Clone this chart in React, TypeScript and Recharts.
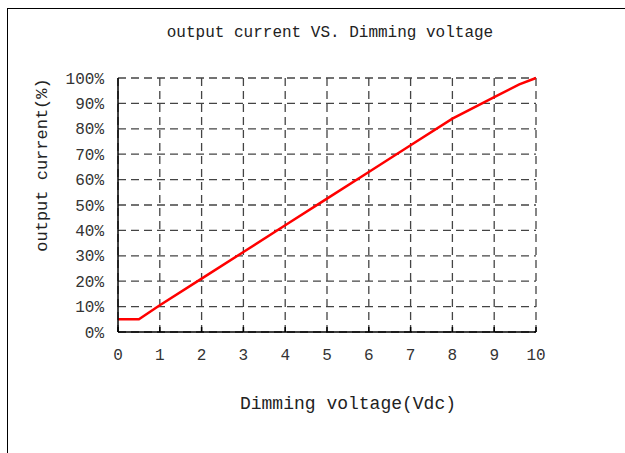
import { LineChart, Line, XAxis, YAxis, CartesianGrid } from 'recharts'

// Dimming curve: output current (%) against dimming voltage (Vdc)
const voltage = [0, 0.5, 1, 2, 3, 4, 5, 6, 7, 8, 9, 9.6, 10]
const current = [5, 5, 10.5, 21, 31.5, 42, 52.5, 63, 73.5, 84, 92.5, 97.5, 100]
const xTicks = [0, 1, 2, 3, 4, 5, 6, 7, 8, 9, 10]
const yTicks = [0, 10, 20, 30, 40, 50, 60, 70, 80, 90, 100]

const chartData = voltage.map((v, i) => ({ v, c: current[i] }))

const font = "'Liberation Mono', 'DejaVu Sans Mono', monospace"

const XTick = (props: any) => {
	const { x, y, payload } = props
	return (
		<g>
			<line x1={x} x2={x} y1={y - 17} y2={y - 22} stroke='#000' strokeWidth={1.5} />
			<text x={x} y={y} dy='0.71em' textAnchor='middle' fill='#333' fontSize={16} fontFamily={font}>
				{payload.value}
			</text>
		</g>
	)
}

const App = () => {
	return (
		<div style={{ position: 'absolute', left: 0, top: 0, width: 625, height: 453, overflow: 'hidden', background: '#fff' }}>
			<div
				style={{
					position: 'absolute',
					left: 7,
					top: 8,
					width: 700,
					height: 500,
					borderTop: '1.5px solid #000',
					borderLeft: '1.5px solid #000',
				}}
			/>
			<div
				style={{
					position: 'absolute',
					left: 0,
					width: 660,
					top: 24,
					textAlign: 'center',
					fontFamily: font,
					fontSize: 16,
					color: '#222',
				}}
			>
				output current VS. Dimming voltage
			</div>
			<div
				style={{
					position: 'absolute',
					left: 42,
					top: 165,
					transform: 'translate(-50%, -50%) rotate(-90deg)',
					whiteSpace: 'nowrap',
					fontFamily: font,
					fontSize: 17,
					color: '#222',
				}}
			>
				output current(%)
			</div>
			<div
				style={{
					position: 'absolute',
					left: 0,
					width: 696,
					top: 394,
					textAlign: 'center',
					fontFamily: font,
					fontSize: 18,
					color: '#222',
				}}
			>
				Dimming voltage(Vdc)
			</div>
			<div style={{ position: 'absolute', left: 0, top: 0 }}>
				<LineChart width={625} height={453} data={chartData} margin={{ top: 78, right: 89, bottom: 0, left: 0 }}>
					<CartesianGrid stroke='#444' strokeDasharray='8 5' strokeWidth={1.3} />
					<XAxis
						dataKey='v'
						type='number'
						domain={[0, 10]}
						ticks={xTicks}
						interval={0}
						height={121}
						tickSize={0}
						tickMargin={17}
						tickLine={false}
						axisLine={{ stroke: '#000', strokeWidth: 1.5 }}
						tick={<XTick />}
					/>
					<YAxis
						type='number'
						domain={[0, 100]}
						ticks={yTicks}
						interval={0}
						width={118}
						tickSize={0}
						tickMargin={14}
						tickLine={false}
						tickFormatter={(v: number) => `${v}%`}
						axisLine={{ stroke: '#000', strokeWidth: 1.5 }}
						tick={{ fill: '#333', fontSize: 16, fontFamily: font }}
					/>
					<Line
						type='linear'
						dataKey='c'
						stroke='#ff0000'
						strokeWidth={2.5}
						dot={false}
						isAnimationActive={false}
					/>
				</LineChart>
			</div>
		</div>
	)
}

export default App
